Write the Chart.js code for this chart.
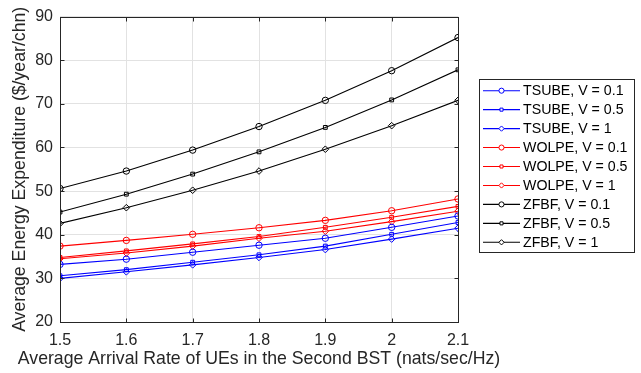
<!DOCTYPE html>
<html>
<head>
<meta charset="utf-8">
<script src="https://cdn.jsdelivr.net/npm/chart.js@4/dist/chart.umd.min.js"></script>
<style>
  html, body { margin: 0; padding: 0; background: #ffffff; }
  #c { display: block; }
</style>
</head>
<body>
<canvas id="c" width="641" height="373"></canvas>
<script>
// ---- data ----
const arrivalRates = [1.5, 1.6, 1.7, 1.8, 1.9, 2.0, 2.1];
const xTickValues = [1.5, 1.6, 1.7, 1.8, 1.9, 2.0, 2.1];
const yTickValues = [20, 30, 40, 50, 60, 70, 80, 90];
const xAxisTitle = 'Average Arrival Rate of UEs in the Second BST (nats/sec/Hz)';
const yAxisTitle = 'Average Energy Expenditure ($/year/chn)';

const tsube01 = [33.2, 34.4, 36.0, 37.6, 39.2, 41.7, 44.3];
const tsube05 = [30.6, 32.0, 33.7, 35.4, 37.4, 40.1, 42.8];
const tsube1  = [30.0, 31.5, 33.1, 34.8, 36.6, 39.0, 41.5];
const wolpe01 = [37.4, 38.7, 40.1, 41.6, 43.3, 45.5, 48.2];
const wolpe05 = [34.8, 36.3, 37.9, 39.6, 41.7, 44.0, 46.5];
const wolpe1  = [34.5, 35.8, 37.4, 39.2, 40.8, 43.0, 45.4];
const zfbf01  = [50.6, 54.6, 59.4, 64.8, 70.8, 77.6, 85.2];
const zfbf05  = [45.2, 49.3, 53.9, 59.0, 64.6, 70.9, 77.8];
const zfbf1   = [42.6, 46.2, 50.2, 54.6, 59.6, 65.0, 70.8];

const seriesLabels = [
  'TSUBE, V = 0.1', 'TSUBE, V = 0.5', 'TSUBE, V = 1',
  'WOLPE, V = 0.1', 'WOLPE, V = 0.5', 'WOLPE, V = 1',
  'ZFBF, V = 0.1', 'ZFBF, V = 0.5', 'ZFBF, V = 1'
];
const seriesValues = [tsube01, tsube05, tsube1, wolpe01, wolpe05, wolpe1, zfbf01, zfbf05, zfbf1];
const seriesColors = ['#0000ff','#0000ff','#0000ff','#ff0000','#ff0000','#ff0000','#000000','#000000','#000000'];
const seriesMarkers = ['circle','rect','rectRot','circle','rect','rectRot','circle','rect','rectRot'];
const markerRadius = { circle: 3.2, rect: 2.7, rectRot: 3.3 };

const FONT = "'Liberation Sans', Arial, Helvetica, sans-serif";
const AXIS_COLOR = '#262626';

const datasets = seriesLabels.map((lab, i) => ({
  label: lab,
  data: arrivalRates.map((x, j) => ({ x: x, y: seriesValues[i][j] })),
  borderColor: seriesColors[i],
  backgroundColor: 'rgba(0,0,0,0)',
  borderWidth: 1.1,
  pointStyle: seriesMarkers[i],
  pointRadius: markerRadius[seriesMarkers[i]],
  pointBorderWidth: 1,
  pointBorderColor: seriesColors[i],
  pointBackgroundColor: 'rgba(0,0,0,0)',
  tension: 0,
  fill: false
}));

// box + inward ticks + axis titles + MATLAB-style legend
const decorPlugin = {
  id: 'decor',
  afterDraw(chart) {
    const ctx = chart.ctx;
    const a = chart.chartArea;
    const xs = chart.scales.x, ys = chart.scales.y;
    ctx.save();
    ctx.strokeStyle = AXIS_COLOR;
    ctx.lineWidth = 1;
    const L = Math.round(a.left) + 0.5, R = Math.round(a.right) + 0.5;
    const T = Math.round(a.top) + 0.5, B = Math.round(a.bottom) + 0.5;
    ctx.strokeRect(L, T, R - L, B - T);
    const tl = 4;
    ctx.beginPath();
    xTickValues.forEach(v => {
      const px = Math.round(xs.getPixelForValue(v)) + 0.5;
      ctx.moveTo(px, B); ctx.lineTo(px, B - tl);
      ctx.moveTo(px, T); ctx.lineTo(px, T + tl);
    });
    yTickValues.forEach(v => {
      const py = Math.round(ys.getPixelForValue(v)) + 0.5;
      ctx.moveTo(L, py); ctx.lineTo(L + tl, py);
      ctx.moveTo(R, py); ctx.lineTo(R - tl, py);
    });
    ctx.stroke();

    // axis titles (drawn without width compression)
    ctx.fillStyle = AXIS_COLOR;
    ctx.font = '17.7px ' + FONT;
    ctx.textAlign = 'center';
    ctx.textBaseline = 'middle';
    ctx.fillText(xAxisTitle, (a.left + a.right) / 2, 359.5);
    ctx.save();
    ctx.translate(20, (a.top + a.bottom) / 2);
    ctx.rotate(-Math.PI / 2);
    ctx.fillText(yAxisTitle, 0, 0);
    ctx.restore();

    // legend
    const bx = 479.5, by = 79.5, bw = 155, bh = 173;
    ctx.fillStyle = '#ffffff';
    ctx.fillRect(bx, by, bw, bh);
    ctx.strokeStyle = AXIS_COLOR;
    ctx.lineWidth = 1;
    ctx.strokeRect(bx, by, bw, bh);
    const rowY0 = 90.7, rowStep = 18.95;
    ctx.textBaseline = 'middle';
    ctx.textAlign = 'left';
    chart.data.datasets.forEach((ds, i) => {
      const y = rowY0 + i * rowStep;
      ctx.strokeStyle = ds.borderColor;
      ctx.lineWidth = 1.1;
      ctx.beginPath();
      ctx.moveTo(483, y); ctx.lineTo(520, y);
      ctx.stroke();
      ctx.lineWidth = 1;
      ctx.fillStyle = '#ffffff';
      ctx.strokeStyle = ds.borderColor;
      Chart.helpers.drawPoint(ctx, {
        pointStyle: ds.pointStyle,
        radius: ds.pointRadius * 0.8,
        rotation: 0,
        borderWidth: 1
      }, 501.5, y);
      ctx.fillStyle = '#000000';
      ctx.font = '14.2px ' + FONT;
      ctx.fillText(ds.label, 523, y + 0.5);
    });
    ctx.restore();
  }
};

new Chart(document.getElementById('c'), {
  type: 'line',
  data: { datasets: datasets },
  options: {
    responsive: false,
    animation: false,
    devicePixelRatio: 1,
    layout: { padding: { left: 0, right: 183, top: 10, bottom: 0 } },
    plugins: { legend: { display: false }, tooltip: { enabled: false } },
    scales: {
      x: {
        type: 'linear',
        min: 1.5, max: 2.1,
        afterBuildTicks: s => { s.ticks = xTickValues.map(v => ({ value: v })); },
        afterFit: s => { s.height = 51; },
        grid: { color: '#e2e2e2', lineWidth: 1, drawTicks: false },
        border: { display: false },
        ticks: {
          padding: 9,
          color: AXIS_COLOR,
          font: { family: FONT, size: 16 },
          maxRotation: 0,
          callback: v => String(Math.round(v * 10) / 10)
        },
        title: { display: false }
      },
      y: {
        type: 'linear',
        min: 20, max: 90,
        afterBuildTicks: s => { s.ticks = yTickValues.map(v => ({ value: v })); },
        afterFit: s => { s.width = 60; },
        grid: { color: '#e2e2e2', lineWidth: 1, drawTicks: false },
        border: { display: false },
        ticks: {
          padding: 7,
          color: AXIS_COLOR,
          font: { family: FONT, size: 16 },
          callback: v => String(v)
        },
        title: { display: false }
      }
    }
  },
  plugins: [decorPlugin]
});
</script>
</body>
</html>
